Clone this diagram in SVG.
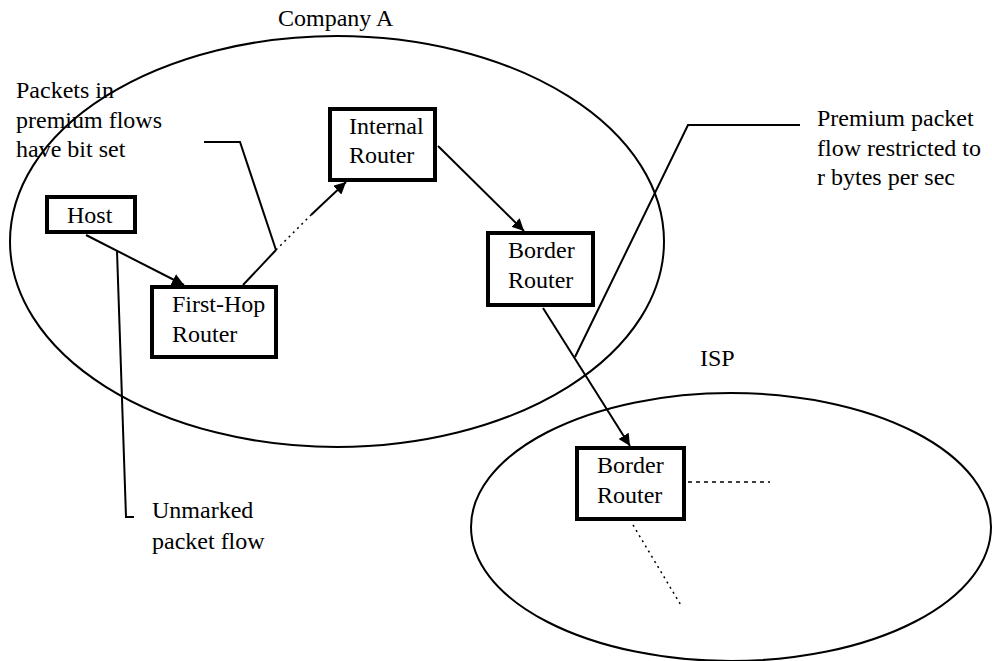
<svg xmlns="http://www.w3.org/2000/svg" width="992" height="661" viewBox="0 0 992 661">
<style>
text{font-family:"Liberation Serif","Times New Roman",serif;font-size:24px;fill:#000}
.box{fill:#fff;stroke:#000;stroke-width:4}
.ln{fill:none;stroke:#000;stroke-width:2}
.dot{fill:none;stroke:#000;stroke-width:1.5;stroke-dasharray:2 4}
.dash{fill:none;stroke:#000;stroke-width:1.5;stroke-dasharray:4 4}
.reg{fill:none;stroke:#000;stroke-width:2}
</style>
<defs>
<marker id="ah" viewBox="0 0 10 10" refX="10" refY="5" markerWidth="6" markerHeight="6" orient="auto" markerUnits="strokeWidth">
<path d="M0,0 L10,5 L0,10 z" fill="#000"/>
</marker>
</defs>
<g id="companyA">
<ellipse class="reg" cx="337" cy="241.5" rx="327" ry="205.5"/>
<text x="278" y="26">Company A</text>
</g>
<g id="isp">
<ellipse class="reg" cx="731" cy="527" rx="260" ry="134"/>
<text x="700" y="366">ISP</text>
</g>
<g id="connectors">
<line class="ln" x1="86" y1="235" x2="184" y2="285" marker-end="url(#ah)"/>
<line class="ln" x1="243" y1="285" x2="276" y2="250"/>
<line class="dot" x1="276" y1="250" x2="311" y2="215"/>
<line class="ln" x1="311" y1="215" x2="346" y2="182" marker-end="url(#ah)"/>
<line class="ln" x1="438" y1="146" x2="524" y2="231" marker-end="url(#ah)"/>
<line class="ln" x1="543" y1="308" x2="630" y2="446" marker-end="url(#ah)"/>
<polyline class="ln" points="204,142 240,142 276,250"/>
<polyline class="ln" points="800,125 688,125 575,357"/>
<polyline class="ln" points="117,251 126,517 134,517"/>
<line class="dash" x1="688" y1="482" x2="770" y2="482"/>
<line class="dot" x1="633" y1="525" x2="682" y2="607"/>
</g>
<g id="host">
<rect class="box" x="47" y="197" width="88" height="35"/>
<text x="67" y="223">Host</text>
</g>
<g id="firsthop">
<rect class="box" x="152" y="287" width="124" height="70"/>
<text x="172" y="312">First-Hop</text>
<text x="172" y="342">Router</text>
</g>
<g id="internal">
<rect class="box" x="330" y="109" width="105" height="71"/>
<text x="349" y="134">Internal</text>
<text x="349" y="163">Router</text>
</g>
<g id="border1">
<rect class="box" x="488" y="233" width="105" height="72"/>
<text x="508" y="258">Border</text>
<text x="508" y="288">Router</text>
</g>
<g id="border2">
<rect class="box" x="577" y="448" width="107" height="71"/>
<text x="597" y="473">Border</text>
<text x="597" y="503">Router</text>
</g>
<g id="note-premium-bit">
<text x="16" y="98">Packets in</text>
<text x="16" y="128">premium flows</text>
<text x="16" y="157">have bit set</text>
</g>
<g id="note-restricted">
<text x="817" y="126">Premium packet</text>
<text x="817" y="156">flow restricted to</text>
<text x="817" y="185">r bytes per sec</text>
</g>
<g id="note-unmarked">
<text x="152" y="518">Unmarked</text>
<text x="152" y="549">packet flow</text>
</g>
</svg>
